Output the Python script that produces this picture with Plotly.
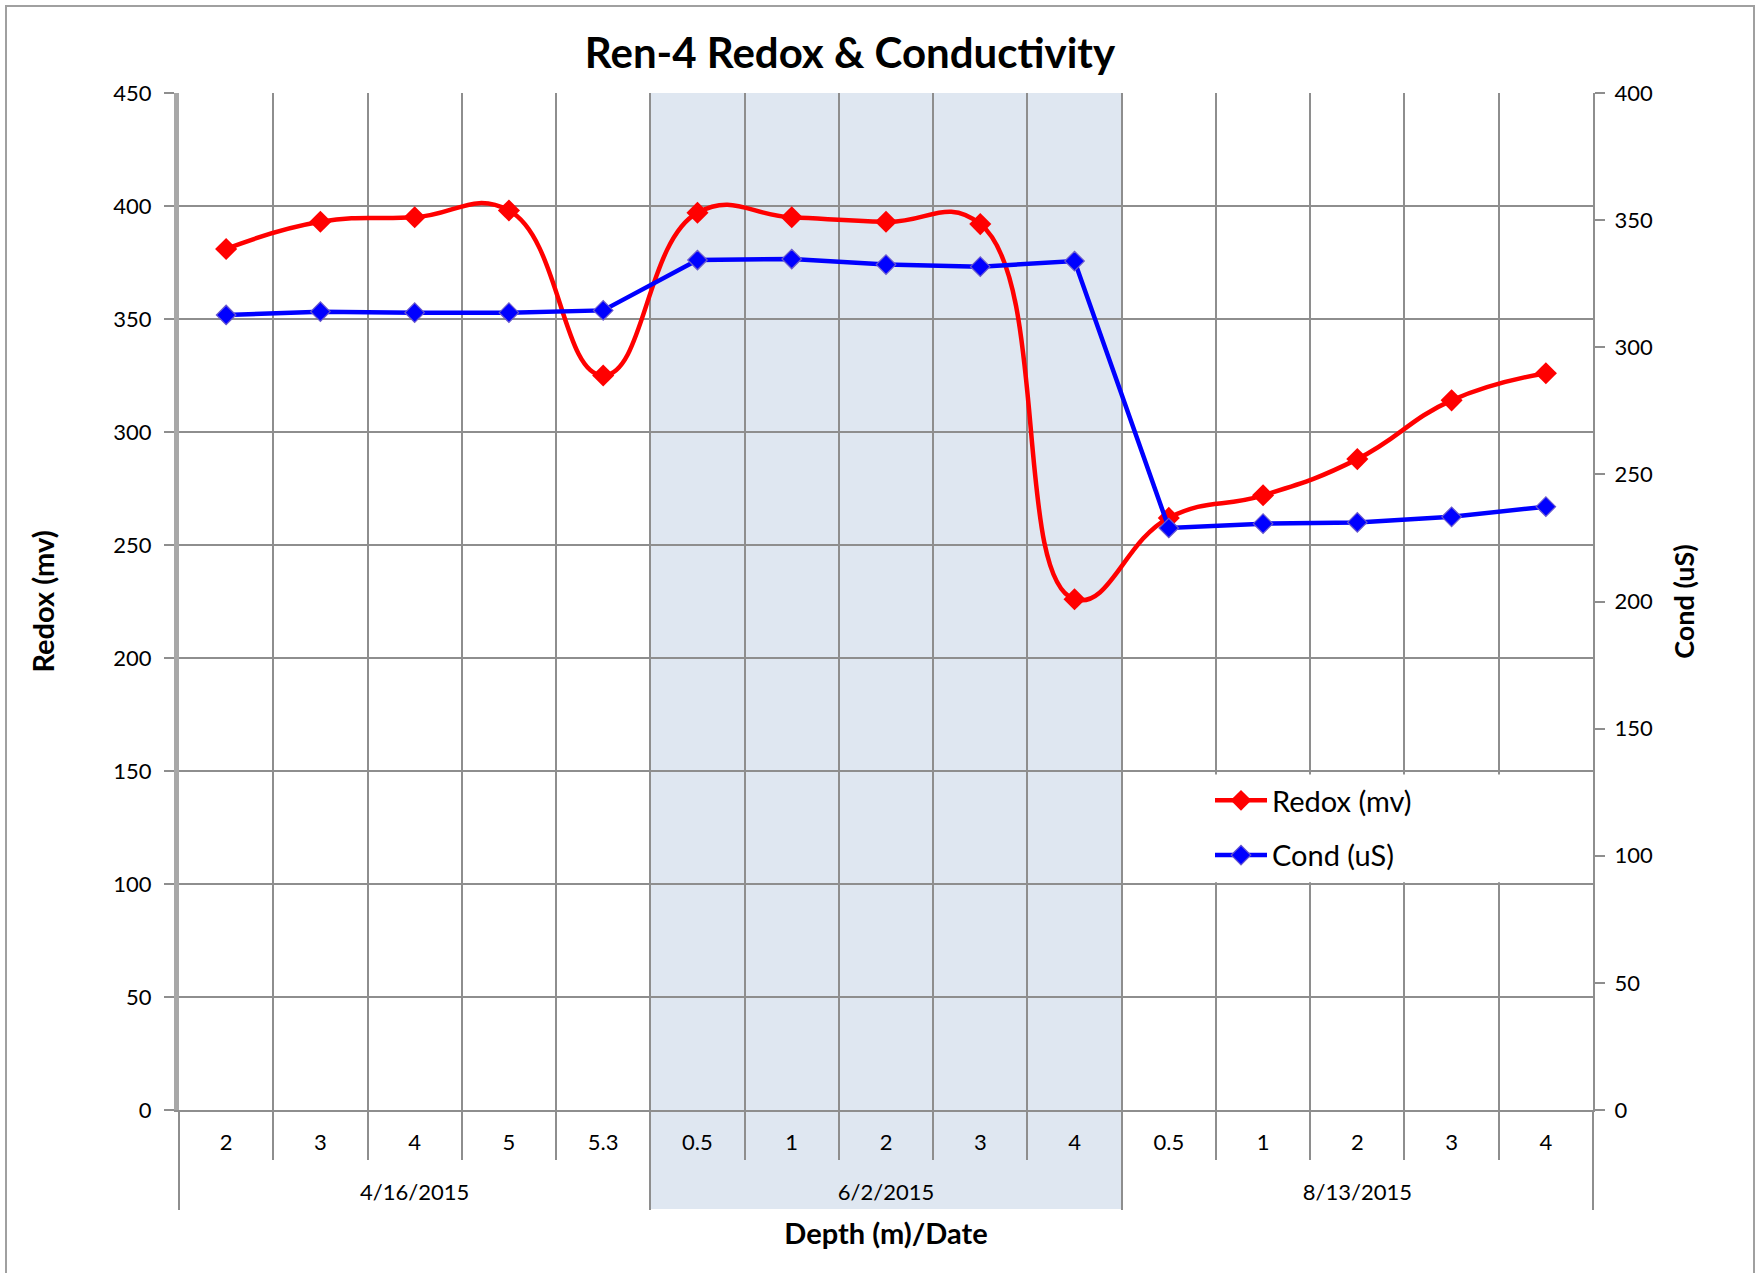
import plotly.graph_objects as go

# ---- data ----
dates = ["4/16/2015"] * 5 + ["6/2/2015"] * 5 + ["8/13/2015"] * 5
depths = ["2", "3", "4", "5", "5.3", "0.5", "1", "2", "3", "4", "0.5", "1", "2", "3", "4"]
redox = [381, 393, 395, 398, 325, 397, 395, 393, 392, 226, 262, 272, 288, 314, 326]
cond = [312.7, 314.0, 313.6, 313.6, 314.5, 334.3, 334.7, 332.5, 331.7, 333.9,
        228.9, 230.6, 231.1, 233.3, 237.3]
shaded_group = "6/2/2015"

# category positions and group layout derived from the lists
pos = list(range(len(depths)))
groups = []
for i, d in enumerate(dates):
    if not groups or groups[-1][0] != d:
        groups.append([d, i, i])
    else:
        groups[-1][2] = i
group_names = [g[0] for g in groups]
group_centers = [(g[1] + g[2]) / 2 for g in groups]
group_bounds = [g[1] - 0.5 for g in groups] + [groups[-1][2] + 0.5]
cat_bounds = [p - 0.5 for p in pos] + [pos[-1] + 0.5]

FONT = "Lato"
GRID = "#8E8E8E"
W, H = 1758, 1273
L, R, T, B = 179, 1593, 93, 1110  # plot area in px

def py(px):  # pixel y -> paper y
    return (B - px) / (B - T)

def pxx(px):  # pixel x -> paper x
    return (px - L) / (R - L)

fig = go.Figure()
fig.add_trace(go.Scatter(
    x=pos, y=redox, name="Redox (mv)", mode="lines+markers",
    line=dict(color="#FF0000", width=4.5, shape="spline", smoothing=1.3),
    marker=dict(symbol="diamond", size=17, color="#FF0000"),
    legendgroup="a", yaxis="y"))
fig.add_trace(go.Scatter(
    x=pos, y=cond, name="Cond (uS)", mode="lines+markers",
    line=dict(color="#0000FF", width=4.5),
    marker=dict(symbol="diamond", size=15, color="#0000FF",
                line=dict(color="#6A5ACD", width=1.2)),
    legendgroup="b", yaxis="y2"))

# shaded band for the middle date group
sg = [g for g in groups if g[0] == shaded_group][0]
fig.add_shape(type="rect", xref="x", yref="paper",
              x0=sg[1] - 0.5, x1=sg[2] + 0.5, y0=py(1209), y1=1,
              fillcolor="#DFE7F1", line_width=0, layer="below")
# white legend box
fig.add_shape(type="rect", xref="x", yref="y",
              x0=9.53, x1=13.53, y0=100.8, y1=148.5,
              fillcolor="white", line_width=0, layer="above")
# outer chart border
fig.add_shape(type="rect", xref="paper", yref="paper",
              x0=pxx(6), x1=pxx(1754), y0=py(1300), y1=py(6),
              line=dict(color="#A0A0A0", width=2), fillcolor="rgba(0,0,0,0)")

xr = [cat_bounds[0], cat_bounds[-1]]
fig.update_layout(
    width=W, height=H,
    margin=dict(l=L, r=W - R, t=T, b=H - B, autoexpand=False),
    paper_bgcolor="white", plot_bgcolor="rgba(0,0,0,0)",
    font=dict(family=FONT, size=22, color="black"),
    title=dict(text="<b>Ren-4 Redox &amp; Conductivity</b>", x=850 / W, xanchor="center",
               xref="container", yref="container", y=1 - 53 / H, yanchor="middle",
               font=dict(family=FONT, size=42, color="black")),
    xaxis=dict(
        range=xr, tickvals=pos, ticktext=depths, ticks="", showgrid=False,
        zeroline=False, showline=True, linecolor=GRID, linewidth=2,
        ticklabelstandoff=12,
        minor=dict(tickvals=cat_bounds, ticks="outside", ticklen=48, tickcolor=GRID,
                   tickwidth=1.5, showgrid=True, gridcolor=GRID, gridwidth=1.5),
        tickfont=dict(family=FONT, size=22),
    ),
    xaxis2=dict(
        range=xr, overlaying="x", side="bottom", anchor="y",
        tickvals=group_centers, ticktext=group_names, ticks="", showgrid=False,
        zeroline=False, showline=False, ticklabelstandoff=67,
        minor=dict(tickvals=group_bounds, ticks="outside", ticklen=99, tickcolor=GRID,
                   tickwidth=1.5, showgrid=False),
        tickfont=dict(family=FONT, size=22),
        title=dict(text="<b>Depth (m)/Date</b>", font=dict(family=FONT, size=29), standoff=19),
    ),
    yaxis=dict(
        range=[0, 450], dtick=50, showgrid=True, gridcolor=GRID, gridwidth=1.5,
        showline=True, linecolor="#A8A8A8", linewidth=5,
        ticks="outside", ticklen=10, tickcolor=GRID, tickwidth=1.5,
        ticklabelstandoff=8, zeroline=False,
        tickfont=dict(family=FONT, size=22),
        title=dict(text="<b>Redox (mv)</b>", font=dict(family=FONT, size=29), standoff=52),
    ),
    yaxis2=dict(
        range=[0, 400], dtick=50, overlaying="y", side="right", showgrid=False,
        showline=True, linecolor=GRID, linewidth=2,
        ticks="outside", ticklen=10, tickcolor=GRID, tickwidth=1.5,
        ticklabelstandoff=5, zeroline=False,
        tickfont=dict(family=FONT, size=22),
        title=dict(text="<b>Cond (uS)</b>", font=dict(family=FONT, size=27), standoff=23),
    ),
    legend=dict(x=pxx(1210), y=py(775), xanchor="left", yanchor="top",
                bgcolor="rgba(0,0,0,0)", borderwidth=0, traceorder="grouped",
                tracegroupgap=14, itemwidth=52,
                font=dict(family=FONT, size=29)),
    showlegend=True,
)

# an invisible helper trace so xaxis2 is drawn
fig.add_trace(go.Scatter(x=[xr[0]], y=[0], xaxis="x2", mode="markers",
                         marker=dict(opacity=0), showlegend=False, hoverinfo="skip"))

fig.write_html("out.html", config={"displayModeBar": False},
               post_script="document.body.style.margin='0';")
